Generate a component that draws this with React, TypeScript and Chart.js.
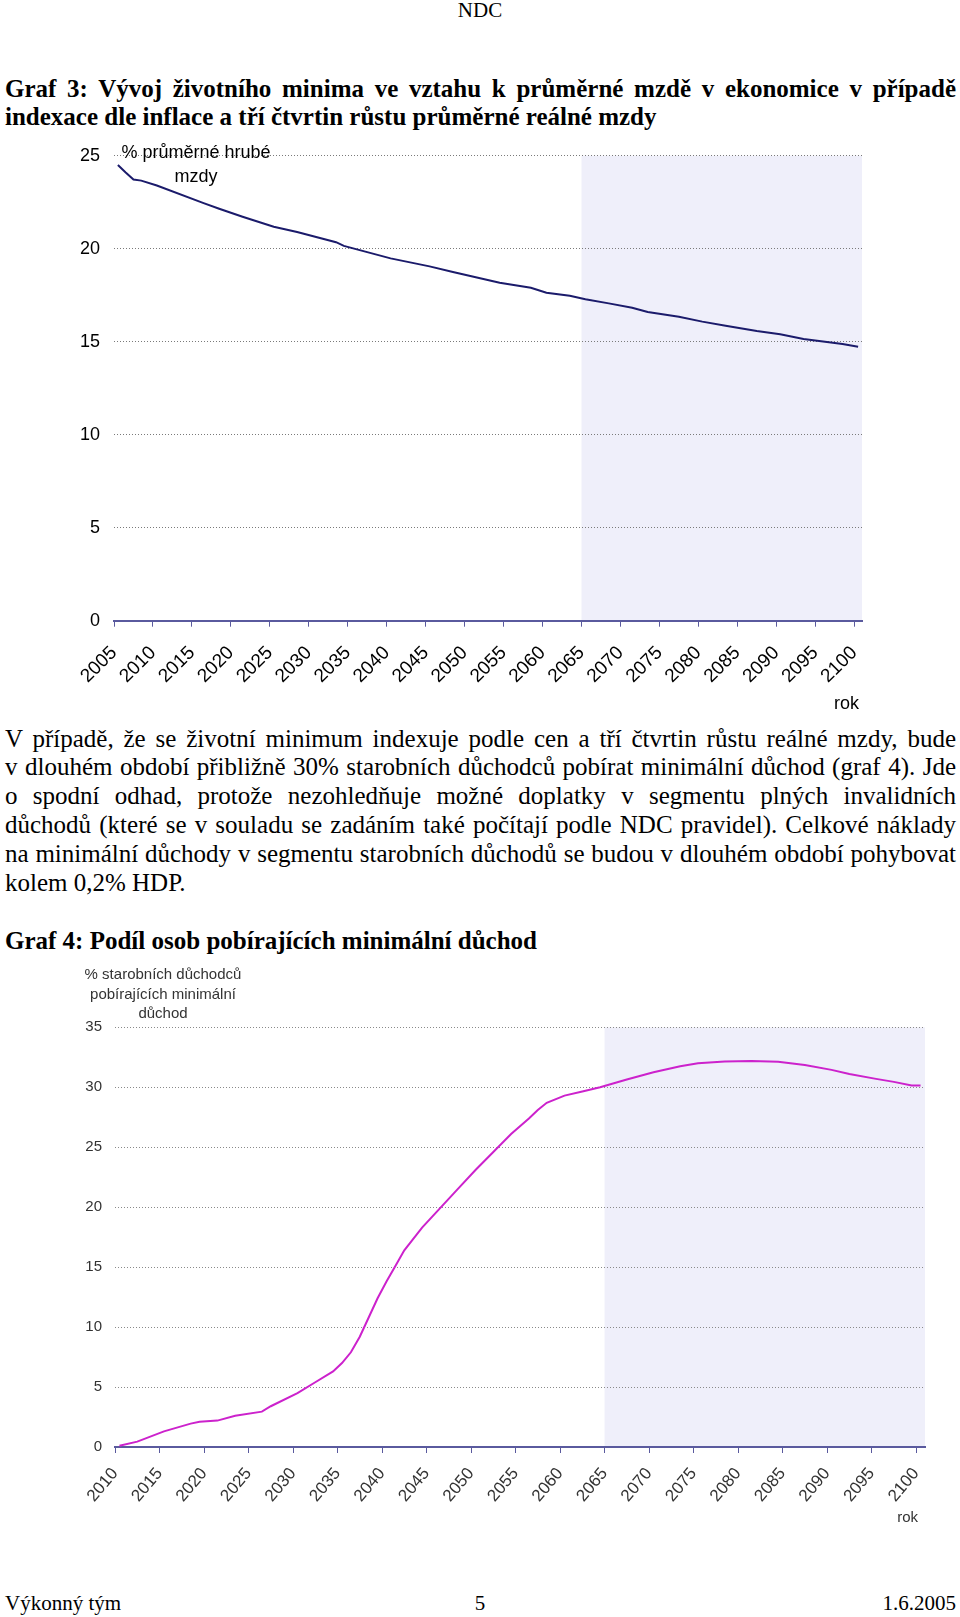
import React, { useEffect, useRef } from 'react';
import { Chart, registerables } from 'chart.js';

Chart.register(...registerables);

// ---------- Graf 3 data ----------
const years1 = [2005, 2006, 2007, 2008, 2010, 2016, 2018, 2021, 2025, 2028, 2033, 2034, 2040, 2045, 2048, 2054, 2058, 2060, 2063, 2065, 2068, 2071, 2073, 2077, 2080, 2083, 2087, 2090, 2093, 2096, 2098, 2100];
const wage1 = [24.5, 24.1, 23.72, 23.66, 23.4, 22.45, 22.15, 21.72, 21.18, 20.9, 20.35, 20.15, 19.48, 19.05, 18.75, 18.17, 17.9, 17.63, 17.47, 17.28, 17.06, 16.83, 16.6, 16.34, 16.08, 15.86, 15.57, 15.4, 15.15, 14.98, 14.88, 14.73];
const tickYears1 = [2005, 2010, 2015, 2020, 2025, 2030, 2035, 2040, 2045, 2050, 2055, 2060, 2065, 2070, 2075, 2080, 2085, 2090, 2095, 2100];
const yTitle1 = ['% průměrné hrubé', 'mzdy'];

// ---------- Graf 4 data ----------
const years2 = [2010, 2012, 2015, 2018, 2019, 2021, 2023, 2026, 2027, 2030, 2032, 2034, 2035, 2036, 2037, 2038, 2039, 2040, 2041, 2042, 2044, 2046, 2048, 2050, 2052, 2054, 2056, 2057, 2058, 2060, 2062, 2064, 2067, 2070, 2073, 2075, 2078, 2081, 2084, 2087, 2090, 2092, 2095, 2097, 2099, 2100];
const share2 = [0.1, 0.45, 1.3, 1.95, 2.1, 2.2, 2.6, 2.95, 3.4, 4.5, 5.4, 6.3, 7.0, 7.9, 9.2, 10.8, 12.4, 13.8, 15.1, 16.4, 18.3, 19.9, 21.5, 23.1, 24.6, 26.1, 27.4, 28.1, 28.7, 29.3, 29.65, 30.0, 30.65, 31.25, 31.75, 32.0, 32.15, 32.2, 32.13, 31.85, 31.45, 31.1, 30.7, 30.45, 30.15, 30.15];
const tickYears2 = [2010, 2015, 2020, 2025, 2030, 2035, 2040, 2045, 2050, 2055, 2060, 2065, 2070, 2075, 2080, 2085, 2090, 2095, 2100];
const yTitle2 = ['% starobních důchodců', 'pobírajících minimální', 'důchod'];

const xTitle = 'rok';
const forecastStart = 2065;

// ---------- page text ----------
const titleLines = [
  'Graf 3: Vývoj životního minima ve vztahu k průměrné mzdě v ekonomice v případě',
  'indexace dle inflace a tří čtvrtin růstu průměrné reálné mzdy',
];
const bodyLines = [
  'V případě, že se životní minimum indexuje podle cen a tří čtvrtin růstu reálné mzdy, bude',
  'v dlouhém období přibližně 30% starobních důchodců pobírat minimální důchod (graf 4). Jde',
  'o spodní odhad, protože nezohledňuje možné doplatky v segmentu plných invalidních',
  'důchodů (které se v souladu se zadáním také počítají podle NDC pravidel). Celkové náklady',
  'na minimální důchody v segmentu starobních důchodů se budou v dlouhém období pohybovat',
  'kolem 0,2% HDP.',
];
const title4 = 'Graf 4: Podíl osob pobírajících minimální důchod';

type Cfg = {
  years: number[];
  values: number[];
  ticks: number[];
  yMax: number;
  lineColor: string;
  gridColor: string;
  labelColor: string;
  tickFont: number;
  xFont: number;
  xPad: number;
  rotation: number;
  area: { left: number; right: number; top: number; bottom: number };
  yPad: number;
  caption: string[];
  captionX: number;
  captionY: number[];
  captionFont: number;
  rokRight: number;
  rokY: number;
};

function buildChart(canvas: HTMLCanvasElement, c: Cfg) {
  const W = 960, H = 600;
  const decor = {
    id: 'decor',
    beforeDraw(chart: any) {
      const { ctx, chartArea, scales } = chart;
      const x0 = scales.x.getPixelForValue(forecastStart - 0.5);
      ctx.save();
      ctx.fillStyle = '#efeffa';
      ctx.fillRect(x0, chartArea.top, chartArea.right - x0, chartArea.bottom - chartArea.top);
      ctx.restore();
    },
    afterDraw(chart: any) {
      const { ctx } = chart;
      ctx.save();
      ctx.fillStyle = c.labelColor;
      ctx.font = `${c.captionFont}px "Liberation Sans", Arial, sans-serif`;
      ctx.textAlign = 'center';
      ctx.textBaseline = 'alphabetic';
      c.caption.forEach((t, i) => ctx.fillText(t, c.captionX, c.captionY[i]));
      ctx.textAlign = 'right';
      ctx.fillText(xTitle, c.rokRight, c.rokY);
      ctx.restore();
    },
  };
  return new Chart(canvas, {
    type: 'line',
    data: {
      datasets: [
        {
          data: c.years.map((y, i) => ({ x: y, y: c.values[i] })),
          borderColor: c.lineColor,
          borderWidth: 2,
          pointRadius: 0,
          tension: 0,
          fill: false,
        },
      ],
    },
    options: {
      animation: false,
      responsive: false,
      devicePixelRatio: 1,
      events: [],
      layout: { padding: { left: 0, top: c.area.top, right: W - c.area.right, bottom: 0 } },
      plugins: { legend: { display: false }, tooltip: { enabled: false } },
      scales: {
        x: {
          type: 'linear',
          min: c.ticks[0] - 0.5,
          max: c.ticks[c.ticks.length - 1] + 0.5,
          afterBuildTicks: (scale: any) => {
            scale.ticks = c.ticks.map((t) => ({ value: t - 0.5 }));
          },
          afterFit: (scale: any) => {
            scale.height = H - c.area.bottom;
          },
          grid: {
            display: true,
            drawOnChartArea: false,
            drawTicks: true,
            tickLength: 6,
            color: '#5a5a9e',
            lineWidth: 1,
          },
          border: { display: true, color: '#5a5a9e', width: 2 },
          ticks: {
            autoSkip: false,
            minRotation: c.rotation,
            maxRotation: c.rotation,
            padding: c.xPad,
            color: c.labelColor,
            font: { family: '"Liberation Sans", Arial, sans-serif', size: c.xFont },
            callback: (_v: any, i: number) => String(c.ticks[i]),
          },
        },
        y: {
          min: 0,
          max: c.yMax,
          afterFit: (scale: any) => {
            scale.width = c.area.left;
          },
          grid: { display: true, drawTicks: false, color: c.gridColor, lineWidth: 1 },
          border: { display: false, dash: [1, 2] },
          ticks: {
            stepSize: 5,
            padding: c.yPad,
            color: c.labelColor,
            font: { family: '"Liberation Sans", Arial, sans-serif', size: c.tickFont },
          },
        },
      },
    },
    plugins: [decor],
  } as any);
}

const serif = '"Liberation Serif", "Times New Roman", serif';

function TextLine(props: { top: number; text: string; size: number; bold?: boolean; align?: string }) {
  const { top, text, size, bold, align } = props;
  const justify = align === 'justify';
  return (
    <div
      style={{
        position: 'absolute',
        left: 5,
        width: 951,
        top,
        fontFamily: serif,
        fontSize: size,
        lineHeight: `${size}px`,
        fontWeight: bold ? 'bold' : 'normal',
        textAlign: (justify ? 'justify' : align || 'left') as any,
        textAlignLast: (justify ? 'justify' : 'auto') as any,
        color: '#000',
      }}
    >
      {text}
    </div>
  );
}

export default function App() {
  const c1 = useRef<HTMLCanvasElement>(null);
  const c2 = useRef<HTMLCanvasElement>(null);

  useEffect(() => {
    const ch1 = buildChart(c1.current!, {
      years: years1,
      values: wage1,
      ticks: tickYears1,
      yMax: 25,
      lineColor: '#1b1b6b',
      gridColor: '#7a7a7a',
      labelColor: '#000',
      tickFont: 18,
      xFont: 19,
      xPad: 15,
      rotation: 45,
      area: { left: 114, right: 862, top: 25.7, bottom: 490.7 },
      yPad: 14,
      caption: yTitle1,
      captionX: 196,
      captionY: [28.3, 51.7],
      captionFont: 18,
      rokRight: 859,
      rokY: 579,
    });
    const ch2 = buildChart(c2.current!, {
      years: years2,
      values: share2,
      ticks: tickYears2,
      yMax: 35,
      lineColor: '#cc22cc',
      gridColor: '#8a8a8a',
      labelColor: '#333',
      tickFont: 15,
      xFont: 17,
      xPad: 11,
      rotation: 50,
      area: { left: 115, right: 925, top: 77.3, bottom: 497 },
      yPad: 13,
      caption: yTitle2,
      captionX: 163,
      captionY: [29, 48.5, 68],
      captionFont: 15,
      rokRight: 918,
      rokY: 572,
    });
    return () => {
      ch1.destroy();
      ch2.destroy();
    };
  }, []);

  const F = 25;
  const off = 0.8375 * F;
  const bodyBase = 746.5;
  const step = 28.9;

  return (
    <div style={{ position: 'absolute', left: 0, top: 0, width: 960, height: 1617, background: '#fff', overflow: 'hidden' }}>
      <div style={{ position: 'absolute', left: 0, top: 0, width: 960, textAlign: 'center', fontFamily: serif, fontSize: 21, lineHeight: '21px' }}>NDC</div>
      <TextLine top={96.5 - off} text={titleLines[0]} size={F} bold align="justify" />
      <TextLine top={125 - off} text={titleLines[1]} size={F} bold />
      {bodyLines.map((t, i) => (
        <TextLine key={i} top={bodyBase + i * step - off} text={t} size={F} align={i < bodyLines.length - 1 ? 'justify' : 'left'} />
      ))}
      <TextLine top={948.5 - off} text={title4} size={F} bold />
      <canvas ref={c1} width={960} height={600} style={{ position: 'absolute', left: 0, top: 130, width: 960, height: 600 }} />
      <canvas ref={c2} width={960} height={600} style={{ position: 'absolute', left: 0, top: 950, width: 960, height: 600 }} />
      <TextLine top={1611 - 0.8375 * 21} text="Výkonný tým" size={21} />
      <div style={{ position: 'absolute', left: 0, top: 1611 - 0.8375 * 21, width: 960, textAlign: 'center', fontFamily: serif, fontSize: 21, lineHeight: '21px' }}>5</div>
      <TextLine top={1611 - 0.8375 * 21} text="1.6.2005" size={21} align="right" />
    </div>
  );
}
